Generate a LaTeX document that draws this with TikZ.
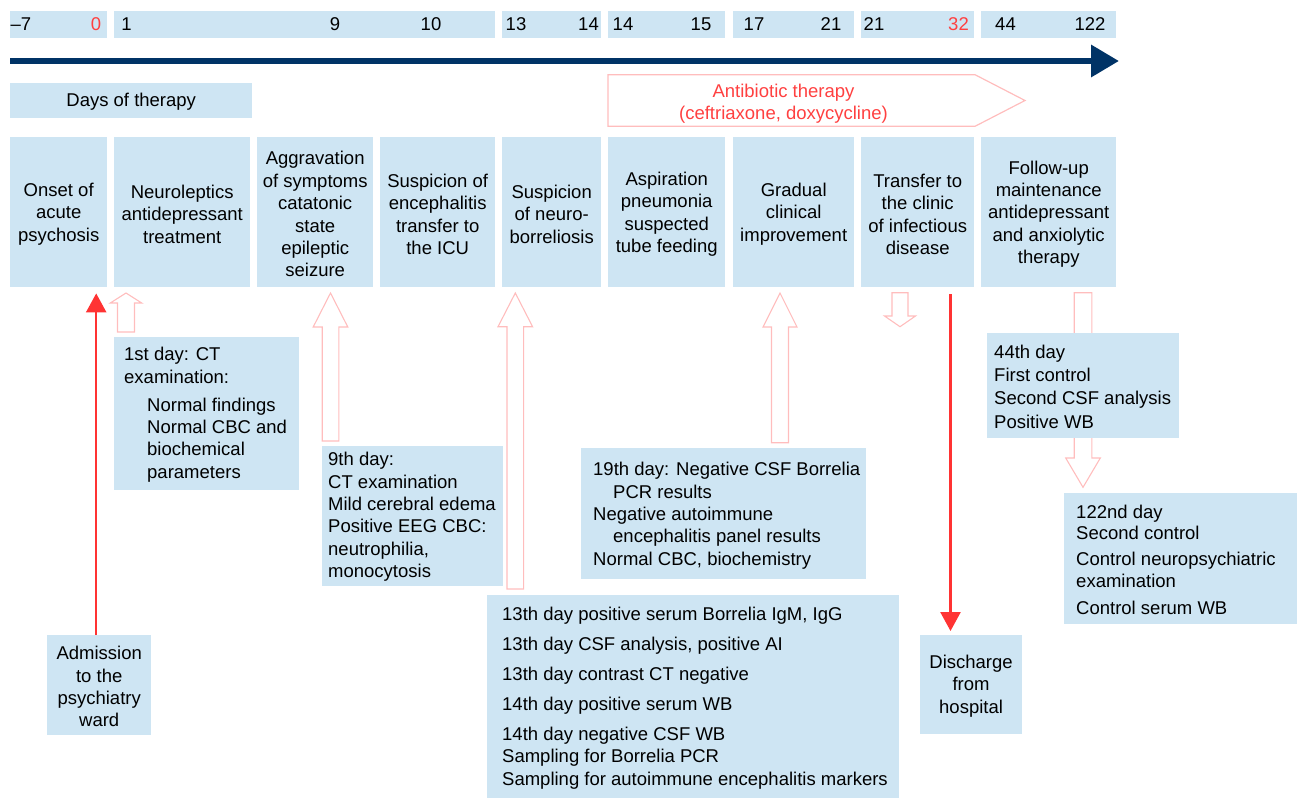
\documentclass[tikz,border=0pt]{standalone}
\usepackage{fontspec}
\setmainfont{Liberation Sans}
\usetikzlibrary{arrows.meta}
\definecolor{boxblue}{RGB}{206,229,243}
\definecolor{navyline}{RGB}{0,51,102}
\definecolor{redline}{RGB}{255,51,51}
\definecolor{redtext}{RGB}{255,64,64}
\definecolor{pinkline}{RGB}{255,189,189}
\newcommand\hupar[6]{\draw[hollow] (#1-#6,#4) -- (#1-#6,#3) -- (#1-#5,#3) -- (#1,#2) -- (#1+#5,#3) -- (#1+#6,#3) -- (#1+#6,#4) -- cycle;}
\newcommand\hdnar[6]{\draw[hollow] (#1-#6,#2) -- (#1-#6,#3) -- (#1-#5,#3) -- (#1,#4) -- (#1+#5,#3) -- (#1+#6,#3) -- (#1+#6,#2) -- cycle;}
\begin{document}
\begin{tikzpicture}[x=1pt,y=-1pt,
  every node/.style={font=\fontsize{18.5}{22.4}\selectfont, inner sep=0pt},
  bx/.style={fill=boxblue, anchor=north west},
  txt/.style={anchor=west, align=left},
  ctxt/.style={align=center},
  hollow/.style={draw=pinkline, line width=1.1pt},
  redarr/.style={draw=redline, line width=2.5pt, -{Triangle[length=19pt,width=20pt]}},
]
\useasboundingbox (0,0) rectangle (1297,798);

% top row of day boxes
\node[bx, minimum width=97pt, minimum height=27pt] (t1) at (10,11) {};
\node[bx, minimum width=381pt, minimum height=27pt] (t2) at (114,11) {};
\node[bx, minimum width=99pt, minimum height=27pt] (t3) at (502,11) {};
\node[bx, minimum width=117pt, minimum height=27pt] (t4) at (608,11) {};
\node[bx, minimum width=121pt, minimum height=27pt] (t5) at (733,11) {};
\node[bx, minimum width=113pt, minimum height=27pt] (t6) at (861,11) {};
\node[bx, minimum width=135pt, minimum height=27pt] (t7) at (981,11) {};
\node (n1) at (21,24.5) {–7};
\node[text=redtext] (n2) at (96,24.5) {0};
\node (n3) at (126.5,24.5) {1};
\node (n4) at (335,24.5) {9};
\node (n5) at (431,24.5) {10};
\node (n6) at (516,24.5) {13};
\node (n7) at (588.5,24.5) {14};
\node (n8) at (623,24.5) {14};
\node (n9) at (701,24.5) {15};
\node (n10) at (754,24.5) {17};
\node (n11) at (831,24.5) {21};
\node (n12) at (874,24.5) {21};
\node[text=redtext] (n13) at (958.5,24.5) {32};
\node (n14) at (1005.5,24.5) {44};
\node (n15) at (1090,24.5) {122};

% timeline
\coordinate (tlstart) at (10,61);
\coordinate (tlend) at (1119,61);
\draw[navyline, line width=6.5pt, -{Triangle[length=28pt,width=31pt]}] (tlstart) -- (tlend);

% days of therapy
\node[bx, minimum width=242pt, minimum height=35pt] (days) at (10,83) {};
\node (dayst) at ([yshift=-1pt]days.center) {Days of therapy};

% antibiotic therapy
\draw[draw=pinkline, line width=1.2pt] (608,74.7) -- (975,74.7) -- (1025,100.5) -- (975,126.3) -- (608,126.3) -- cycle;
\node[text=redtext, align=center, font=\fontsize{18.5}{22}\selectfont] (abx) at (783.5,103.5) {Antibiotic therapy\\(ceftriaxone, doxycycline)};

% main row
\node[bx, minimum width=97pt, minimum height=150pt] (onset) at (10,137) {};
\node[ctxt] at ([yshift=-2pt]onset.center) {Onset of\\acute\\psychosis};
\node[bx, minimum width=136pt, minimum height=150pt] (neuro) at (114,137) {};
\node[ctxt] at ([yshift=-2pt]neuro.center) {Neuroleptics\\antidepressant\\treatment};
\node[bx, minimum width=116pt, minimum height=150pt] (aggr) at (257,137) {};
\node[ctxt] at ([yshift=-2pt]aggr.center) {Aggravation\\of symptoms\\catatonic\\state\\epileptic\\seizure};
\node[bx, minimum width=115pt, minimum height=150pt] (susp) at (380,137) {};
\node[ctxt] at ([yshift=-2pt]susp.center) {Suspicion of\\encephalitis\\transfer to\\the ICU};
\node[bx, minimum width=99pt, minimum height=150pt] (nbor) at (502,137) {};
\node[ctxt] at ([yshift=-2pt]nbor.center) {Suspicion\\of neuro-\\borreliosis};
\node[bx, minimum width=117pt, minimum height=150pt] (asp) at (608,137) {};
\node[ctxt] at ([yshift=-2pt]asp.center) {Aspiration\\pneumonia\\suspected\\tube feeding};
\node[bx, minimum width=121pt, minimum height=150pt] (grad) at (733,137) {};
\node[ctxt] at ([yshift=-2pt]grad.center) {Gradual\\clinical\\improvement};
\node[bx, minimum width=113pt, minimum height=150pt] (trans) at (861,137) {};
\node[ctxt] at ([yshift=-2pt]trans.center) {Transfer to\\the clinic\\of infectious\\disease};
\node[bx, minimum width=135pt, minimum height=150pt] (foll) at (981,137) {};
\node[ctxt] at ([yshift=-2pt]foll.center) {Follow-up\\maintenance\\antidepressant\\and anxiolytic\\therapy};

% hollow arrows
\hupar{126}{293}{303}{332}{15.7}{8.5}
\hupar{330.5}{293}{327}{441}{17.3}{8.3}
\hupar{515.3}{293}{326.7}{589}{17.3}{8.3}
\hupar{780}{293}{327}{442.7}{17}{8.5}
\hdnar{900}{292.7}{316}{326.7}{15.5}{8}
\hdnar{1083}{292.7}{458}{487.3}{17.3}{8.8}

% lower boxes
\node[bx, minimum width=185pt, minimum height=153pt] (d1) at (114,337) {};
\node[txt] (d1t) at ([xshift=10pt,yshift=-1pt]d1.west) {1st day: CT\\examination:\\[5.5pt]\hspace*{23pt}Normal findings\\\hspace*{23pt}Normal CBC and\\\hspace*{23pt}biochemical\\\hspace*{23pt}parameters};

\node[bx, minimum width=180.7pt, minimum height=140pt] (d9) at (322,445.7) {};
\node[txt] (d9t) at ([xshift=6pt,yshift=-1pt]d9.west) {9th day:\\CT examination\\Mild cerebral edema\\Positive EEG CBC:\\neutrophilia,\\monocytosis};

\node[bx, minimum width=411.7pt, minimum height=203pt] (d13) at (487,595) {};
\node[txt] (d13t) at ([xshift=15pt,yshift=-1.5pt]d13.west) {13th day positive serum Borrelia IgM, IgG\\[7.5pt]13th day CSF analysis, positive AI\\[7.5pt]13th day contrast CT negative\\[7.5pt]14th day positive serum WB\\[7.5pt]14th day negative CSF WB\\Sampling for Borrelia PCR\\Sampling for autoimmune encephalitis markers};

\node[bx, minimum width=285pt, minimum height=131pt] (d19) at (581,448) {};
\node[txt] (d19t) at ([xshift=12pt,yshift=-2pt]d19.west) {19th day: Negative CSF Borrelia\\\hspace*{20pt}PCR results\\Negative autoimmune\\\hspace*{20pt}encephalitis panel results\\Normal CBC, biochemistry};

\node[bx, minimum width=192pt, minimum height=104.7pt] (d44) at (987,333) {};
\node[txt, font=\fontsize{18.5}{23.3}\selectfont] (d44t) at ([xshift=7pt,yshift=-1pt]d44.west) {44th day\\First control\\Second CSF analysis\\Positive WB};

\node[bx, minimum width=233pt, minimum height=131pt] (d122) at (1064,493) {};
\node[txt, font=\fontsize{18.5}{21.3}\selectfont] (d122t) at ([xshift=12pt,yshift=-1pt]d122.west) {122nd day\\Second control\\[5pt]Control neuropsychiatric\\examination\\[6pt]Control serum WB};

\node[bx, minimum width=104pt, minimum height=100pt] (adm) at (47,635) {};
\node[ctxt] at ([yshift=-1.5pt]adm.center) {Admission\\to the\\psychiatry\\ward};
\node[bx, minimum width=101.7pt, minimum height=99pt] (dis) at (920,635) {};
\node[ctxt] at ([yshift=-1.5pt]dis.center) {Discharge\\from\\hospital};

% red connectors
\coordinate (a1) at ([xshift=-3pt]adm.north);
\draw[redarr, shorten >=6pt] (a1) -- (a1 |- onset.south);
\coordinate (a2) at ([xshift=32.8pt]trans.south);
\draw[redarr, shorten <=7pt, shorten >=4pt] (a2) -- (a2 |- dis.north);
\end{tikzpicture}
\end{document}
